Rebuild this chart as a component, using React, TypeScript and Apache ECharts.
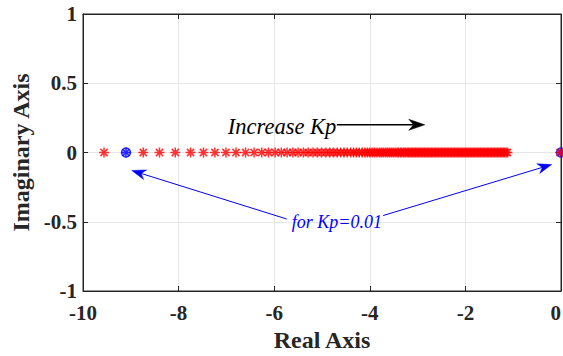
import { useEffect, useRef } from "react";
import * as echarts from "echarts";

// Real parts of the closed-loop poles as Kp increases (red asterisks)
const redPoles = [
  -9.56, -8.74, -8.40, -8.07, -7.75, -7.48, -7.24, -7.01, -6.80, -6.60, -6.42, -6.26, -6.12,
  -5.98, -5.85, -5.73, -5.61, -5.50, -5.39, -5.29, -5.19, -5.10, -5.01, -4.92, -4.84, -4.76,
  -4.68, -4.61, -4.54, -4.47, -4.40, -4.34, -4.28, -4.22, -4.16, -4.10, -4.05, -4.00, -3.95,
  -3.90, -3.85, -3.80, -3.76, -3.72, -3.67, -3.63, -3.59, -3.55, -3.51, -3.47, -3.43, -3.40,
  -3.36, -3.33, -3.29, -3.26, -3.22, -3.19, -3.16, -3.13, -3.10, -3.07, -3.04, -3.01, -2.98,
  -2.95, -2.92, -2.89, -2.86, -2.83, -2.80, -2.77, -2.74, -2.71, -2.68, -2.65, -2.62, -2.59,
  -2.56, -2.53, -2.50, -2.47, -2.44, -2.41, -2.38, -2.35, -2.32, -2.29, -2.26, -2.23, -2.20,
  -2.17, -2.14, -2.11, -2.08, -2.05, -2.02, -1.99, -1.96, -1.93, -1.90, -1.87, -1.84, -1.81,
  -1.78, -1.75, -1.72, -1.69, -1.66, -1.63, -1.60, -1.57, -1.54, -1.51, -1.48, -1.45, -1.42,
  -1.39, -1.36, -1.33, -1.30, -1.27, -1.24, -1.21, -1.18, -1.15, -1.12, -0.02,
];
// Poles for Kp = 0.01 (blue)
const bluePoles = [-9.1, 0];

// Axis settings
const xMin = -10, xMax = 0, xStep = 2;
const yMin = -1, yMax = 1, yStep = 0.5;

// Annotation anchor points in data coordinates
const increaseText = { label: "Increase Kp", at: [-6.97, 0.19] };
const increaseArrow = { from: [-4.69, 0.2], to: [-2.85, 0.2] };
const kpText = { label: "for Kp=0.01", at: [-4.69, -0.5] };
const kpArrowLeft = { from: [-5.74, -0.48], to: [-8.98, -0.13] };
const kpArrowRight = { from: [-3.72, -0.455], to: [-0.195, -0.087] };

const ASTERISK = "path://M0,-5L0,5M-5,0L5,0M-3.6,-3.6L3.6,3.6M-3.6,3.6L3.6,-3.6";
const FONT = "Liberation Serif";
const AXIS_COLOR = "#262626";

function arrowShapes(p0: number[], p1: number[], color: string, lw: number, L: number, W: number) {
  const dx = p1[0] - p0[0];
  const dy = p1[1] - p0[1];
  const len = Math.sqrt(dx * dx + dy * dy) || 1;
  const ux = dx / len, uy = dy / len;
  const nx = -uy, ny = ux;
  const bx = p1[0] - ux * L, by = p1[1] - uy * L;
  const notchX = p1[0] - ux * (L * 0.7), notchY = p1[1] - uy * (L * 0.7);
  return [
    {
      type: "line",
      shape: { x1: p0[0], y1: p0[1], x2: notchX, y2: notchY },
      style: { stroke: color, lineWidth: lw },
      z: 100,
    },
    {
      type: "polygon",
      shape: {
        points: [
          [p1[0], p1[1]],
          [bx + nx * W, by + ny * W],
          [notchX, notchY],
          [bx - nx * W, by - ny * W],
        ],
      },
      style: { fill: color, stroke: color, lineWidth: 0.5 },
      z: 100,
    },
  ];
}

export default function App() {
  const ref = useRef<HTMLDivElement>(null);

  useEffect(() => {
    if (!ref.current) return;
    const chart = echarts.init(ref.current, undefined, { renderer: "svg" });

    const axisLabel = { fontFamily: FONT, fontWeight: "bold", fontSize: 21, color: AXIS_COLOR };
    const axisName = { fontFamily: FONT, fontWeight: "bold", fontSize: 24, color: AXIS_COLOR };
    const axisLine = { show: true, onZero: false, lineStyle: { color: AXIS_COLOR, width: 1 } };
    const axisTick = { show: true, inside: true, length: 5, lineStyle: { color: AXIS_COLOR } };
    const splitLine = { show: true, lineStyle: { color: "#e6e6e6", width: 1 } };

    chart.setOption({
      animation: false,
      backgroundColor: "#ffffff",
      textStyle: { fontFamily: FONT },
      grid: {
        left: 83,
        right: 2,
        top: 14,
        bottom: 65,
        show: true,
        borderColor: AXIS_COLOR,
        borderWidth: 1,
        backgroundColor: "transparent",
        outerBoundsMode: "none",
        containLabel: false,
      },
      xAxis: [
        {
          type: "value",
          min: xMin,
          max: xMax,
          interval: xStep,
          name: "Real Axis",
          nameLocation: "middle",
          nameGap: 31,
          nameTextStyle: axisName,
          axisLine,
          axisTick,
          axisLabel: { ...axisLabel, margin: 11, alignMaxLabel: "right" },
          splitLine,
        },
        {
          type: "value",
          position: "top",
          min: xMin,
          max: xMax,
          interval: xStep,
          axisLine,
          axisTick,
          axisLabel: { show: false },
          splitLine: { show: false },
        },
      ],
      yAxis: [
        {
          type: "value",
          min: yMin,
          max: yMax,
          interval: yStep,
          name: "Imaginary Axis",
          nameLocation: "middle",
          nameGap: 48,
          nameTextStyle: axisName,
          axisLine,
          axisTick,
          axisLabel: { ...axisLabel, margin: 6 },
          splitLine,
        },
        {
          type: "value",
          position: "right",
          min: yMin,
          max: yMax,
          interval: yStep,
          axisLine,
          axisTick,
          axisLabel: { show: false },
          splitLine: { show: false },
        },
      ],
      series: [
        {
          type: "scatter",
          name: "Kp=0.01 circle",
          data: bluePoles.map((x) => [x, 0]),
          symbol: "circle",
          symbolSize: 9,
          itemStyle: { color: "rgba(0,0,255,0.3)", borderColor: "#0000ff", borderWidth: 1.5 },
          z: 3,
        },
        {
          type: "scatter",
          name: "Kp=0.01 asterisk",
          data: bluePoles.map((x) => [x, 0]),
          symbol: ASTERISK,
          symbolSize: 10,
          itemStyle: { color: "none", borderColor: "#0000ff", borderWidth: 1.4 },
          z: 4,
        },
        {
          type: "scatter",
          name: "poles",
          data: redPoles.map((x) => [x, 0]),
          symbol: ASTERISK,
          symbolSize: 10,
          itemStyle: { color: "none", borderColor: "#ff0000", borderWidth: 1.5 },
          z: 5,
        },
      ],
    });

    const px = (p: number[]) => chart.convertToPixel({ gridIndex: 0 }, p) as number[];

    const iT = px(increaseText.at);
    const iA0 = px(increaseArrow.from);
    const iA1 = px(increaseArrow.to);
    const kT = px(kpText.at);
    const kL0 = px(kpArrowLeft.from);
    const kL1 = px(kpArrowLeft.to);
    const kR0 = px(kpArrowRight.from);
    const kR1 = px(kpArrowRight.to);

    chart.setOption({
      graphic: [
        ...arrowShapes(iA0, iA1, "#000000", 1.5, 16, 5.5),
        ...arrowShapes(kL0, kL1, "#0000ff", 1, 14, 5),
        ...arrowShapes(kR0, kR1, "#0000ff", 1, 14, 5),
        {
          type: "text",
          x: iT[0],
          y: iT[1],
          z: 101,
          style: {
            text: increaseText.label,
            fontFamily: FONT,
            fontStyle: "italic",
            fontSize: 22.5,
            fill: "#000000",
            align: "left",
            verticalAlign: "middle",
          },
        },
        {
          type: "text",
          x: kT[0],
          y: kT[1],
          z: 101,
          style: {
            text: kpText.label,
            fontFamily: FONT,
            fontStyle: "italic",
            fontSize: 18,
            fill: "#0000ff",
            align: "center",
            verticalAlign: "middle",
          },
        },
      ],
    });

    return () => chart.dispose();
  }, []);

  return (
    <div
      ref={ref}
      style={{ position: "absolute", left: 0, top: 0, width: 563, height: 356, background: "#fff" }}
    />
  );
}
